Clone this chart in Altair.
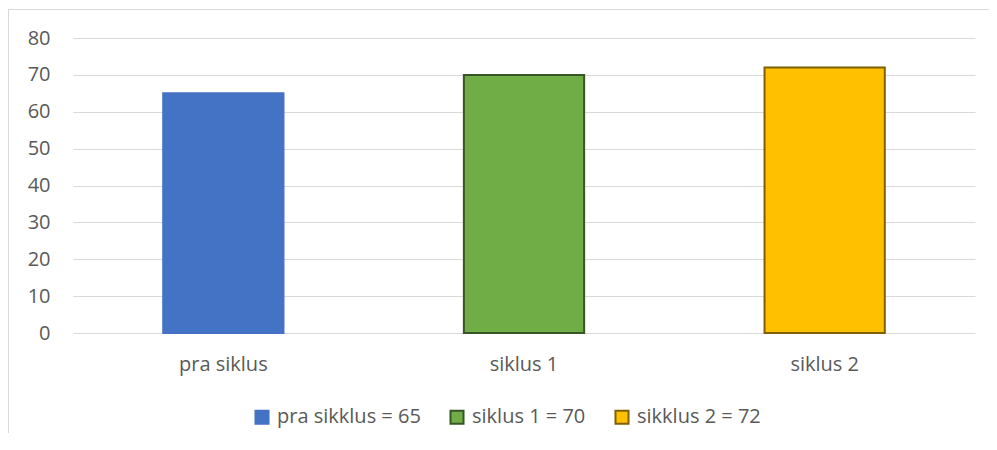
import altair as alt
import pandas as pd

categories = ["pra siklus", "siklus 1", "siklus 2"]
values = [65, 70, 72]
legend_labels = ["pra sikklus = 65", "siklus 1 = 70", "sikklus 2 = 72"]
fill_colors = ["#4472C4", "#70AD47", "#FFC000"]
stroke_colors = ["#4472C4", "#375623", "#7F6000"]
y_ticks = [0, 10, 20, 30, 40, 50, 60, 70, 80]

df = pd.DataFrame({"cat": categories, "val": values, "leg": legend_labels})

FONT = "Open Sans"
TXT = "#595959"
FS = 20

legend_cfg = alt.Legend(
    title=None,
    orient="none",
    legendX=179,
    legendY=369,
    direction="horizontal",
    symbolType="square",
    symbolSize=170,
    symbolStrokeWidth=2,
    labelFontSize=FS,
    labelColor=TXT,
    labelFont=FONT,
    columnPadding=25,
    labelOffset=5,
)

bars = alt.Chart(df).mark_bar(strokeWidth=2).encode(
    x=alt.X(
        "cat:N",
        sort=categories,
        scale=alt.Scale(paddingInner=0.6, paddingOuter=0.3),
        axis=alt.Axis(
            title=None,
            labelAngle=0,
            domain=False,
            ticks=False,
            grid=False,
            labelFontSize=FS,
            labelColor=TXT,
            labelFont=FONT,
            labelPadding=21,
        ),
    ),
    y=alt.Y(
        "val:Q",
        scale=alt.Scale(domain=[0, 80], nice=False),
        axis=alt.Axis(
            title=None,
            values=y_ticks,
            domain=False,
            ticks=False,
            grid=True,
            gridColor="#D9D9D9",
            gridWidth=1,
            labelFontSize=FS,
            labelColor=TXT,
            labelFont=FONT,
            labelPadding=23,
        ),
    ),
    fill=alt.Fill(
        "leg:N",
        sort=legend_labels,
        scale=alt.Scale(domain=legend_labels, range=fill_colors),
        legend=legend_cfg,
    ),
    stroke=alt.Stroke(
        "leg:N",
        sort=legend_labels,
        scale=alt.Scale(domain=legend_labels, range=stroke_colors),
        legend=legend_cfg,
    ),
)

frame_left = alt.Chart(df).mark_rule(color="#D9D9D9", strokeWidth=1).encode(
    x=alt.value(-64.5), y=alt.value(-29), y2=alt.value(420)
)
frame_top = alt.Chart(df).mark_rule(color="#D9D9D9", strokeWidth=1).encode(
    x=alt.value(-65), x2=alt.value(930), y=alt.value(-28.5)
)

chart = (
    alt.layer(frame_left, frame_top, bars)
    .properties(
        width=902,
        height=295,
        background="white",
        autosize=alt.AutoSizeParams(type="none"),
        padding={"left": 65, "top": 30, "right": 14, "bottom": 100},
    )
    .configure_view(strokeWidth=0, stroke=None)
)

chart.save("out.html", embed_options={"renderer": "svg", "actions": False})
